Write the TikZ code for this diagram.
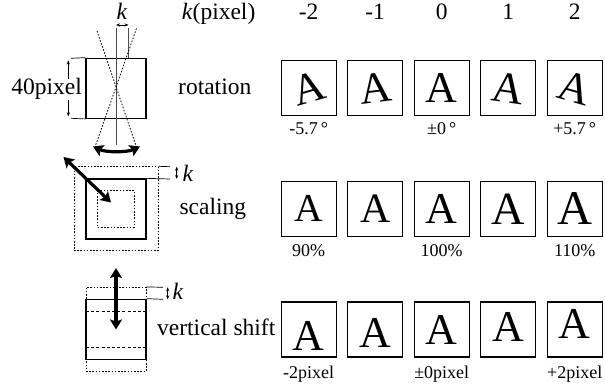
\documentclass[tikz,border=0pt]{standalone}
\usepackage{fontspec}
\setmainfont{Liberation Serif}
\usetikzlibrary{arrows.meta}
\begin{document}
\begin{tikzpicture}[x=1pt,y=-1pt,
  lbl/.style={font=\fontsize{23.5}{28}\selectfont, inner sep=0pt},
  sublbl/.style={font=\fontsize{18}{21}\selectfont, inner sep=0pt},
  cellbox/.style={draw, line width=1.3pt, minimum width=55pt, minimum height=55pt, inner sep=0pt},
  glyph/.style={font=\fontsize{44}{44}\selectfont, inner sep=0pt},
  sqbox/.style={draw, line width=1.3pt, minimum width=60pt, minimum height=60pt, inner sep=0pt},
  dotline/.style={line width=0.8pt, dash pattern=on 1.6pt off 1.6pt},
  dashline/.style={line width=0.8pt, dash pattern=on 3pt off 2.2pt},
  thinline/.style={line width=0.7pt},
  greyline/.style={line width=1pt, draw=black!70},
  smallarrow/.style={line width=0.7pt, {Stealth[length=4pt,width=3.2pt]}-{Stealth[length=4pt,width=3.2pt]}},
  bigarrow/.style={line width=3.2pt, {Stealth[length=10pt,width=12pt,inset=2pt]}-{Stealth[length=10pt,width=12pt,inset=2pt]}}
]
\useasboundingbox (0,0) rectangle (605,387);

% ---------- header ----------
\node[lbl, anchor=base west] (hk) at (181.7,20) {\textit{k}(pixel)};
\foreach \i/\cx/\t in {1/308.7/-2, 2/375.2/-1, 3/441.7/0, 4/508.2/1, 5/574.7/2}{
  \node[lbl, anchor=base] (h\i) at (\cx,20) {\t};
}

% ---------- row labels ----------
\node[lbl, anchor=base west] (lrot) at (178,95) {rotation};
\node[lbl, anchor=base west] (lsca) at (179.3,215) {scaling};
\node[lbl, anchor=base east] (lshi) at (275.5,335) {vertical shift};

% ---------- rotation row ----------
\foreach \i/\cx/\ang in {1/308.7/16, 2/375.2/7, 3/441.7/0, 4/508.2/-8, 5/574.7/-16}{
  \node[cellbox] (r\i) at (\cx,88.3) {};
  \node[glyph, rotate=\ang] (ra\i) at (r\i.center) {A};
}
\node[sublbl, anchor=base] (rs1) at (308.7,135) {-5.7\,°};
\node[sublbl, anchor=base] (rs3) at (441.7,135) {±0\,°};
\node[sublbl, anchor=base] (rs5) at (574.7,135) {+5.7\,°};

% ---------- scaling row ----------
\foreach \i/\cx/\s in {1/308.7/0.9, 2/375.2/0.95, 3/441.7/1.0, 4/508.2/1.05, 5/574.7/1.1}{
  \node[cellbox] (s\i) at (\cx,208.8) {};
  \node[glyph, scale=\s] (sa\i) at (s\i.center) {A};
}
\node[sublbl, anchor=base] (ss1) at (308.7,256.5) {90\%};
\node[sublbl, anchor=base] (ss3) at (441.7,256.5) {100\%};
\node[sublbl, anchor=base] (ss5) at (574.7,256.5) {110\%};

% ---------- vertical shift row ----------
\foreach \i/\cx/\dy in {1/308.7/6, 2/375.2/3, 3/441.7/0, 4/508.2/-3, 5/574.7/-6}{
  \node[cellbox] (v\i) at (\cx,329.5) {};
  \node[glyph] (va\i) at ([yshift=-\dy pt]v\i.center) {A};
}
\node[sublbl, anchor=base] (vs1) at (308.7,378) {-2pixel};
\node[sublbl, anchor=base] (vs3) at (441.7,378) {±0pixel};
\node[sublbl, anchor=base] (vs5) at (574.7,378) {+2pixel};

% ---------- left: rotation sketch ----------
\node[sqbox] (rsq) at (116,88.3) {};
\coordinate (rtop) at (116,28);
\coordinate (rbot) at (116,145);
\coordinate (r2top) at (128,28);
\coordinate (r2bot) at (128,58.3);
\draw[greyline] (rtop) -- (rbot);
\draw[greyline] (r2top) -- (r2bot);
\coordinate (d1a) at (97,31);
\coordinate (d1b) at (136,145.6);
\coordinate (d2a) at (136.5,28.5);
\coordinate (d2b) at (95.5,145.6);
\draw[dotline] (d1a) -- (d1b);
\draw[dotline] (d2a) -- (d2b);
\coordinate (ka) at (116,25);
\coordinate (kb) at (128.5,25);
\draw[smallarrow] (ka) -- (kb);
\node[lbl, anchor=base] (kr) at (122,20) {\textit{k}};
\coordinate (ca) at (93,146.5);
\coordinate (cb) at (140,146.5);
\coordinate (cc1) at (106,152.5);
\coordinate (cc2) at (127,152.5);
\draw[bigarrow] (ca) .. controls (cc1) and (cc2) .. (cb);
% 40pixel dimension
\coordinate (e1) at (71,58.3);
\coordinate (e2) at (71,118.3);
\draw[thinline] (e1) -- (rsq.north west);
\draw[thinline] (e2) -- (rsq.south west);
\coordinate (pa) at (68.3,60.5);
\coordinate (pb) at (68.3,116.3);
\draw[smallarrow] (pa) -- (pb);
\node[lbl, anchor=base east, fill=white] (l40) at (82,95) {40pixel};

% ---------- left: scaling sketch ----------
\node[sqbox] (ssq) at (116,209) {};
\node[draw, dotline, minimum width=84pt, minimum height=84pt, inner sep=0pt] (sout) at (116,208.7) {};
\node[draw, dotline, minimum width=36.6pt, minimum height=36.6pt, inner sep=0pt] (sin) at (116,209) {};
\coordinate (sa) at (111,202.5);
\coordinate (sb) at (63.5,157);
\draw[bigarrow] (sa) -- (sb);
\coordinate (se1) at (170,166.7);
\coordinate (se2) at (170,179);
\draw[thinline] (sout.north east) -- (se1);
\draw[thinline] (ssq.north east) -- (se2);
\coordinate (ska) at (176.7,166.7);
\coordinate (skb) at (176.7,179);
\draw[smallarrow] (ska) -- (skb);
\node[lbl, anchor=base west] (ks) at (182.5,181.5) {\textit{k}};

% ---------- left: vertical shift sketch ----------
\node[sqbox] (vsq) at (116,329.3) {};
\node[draw, dotline, minimum width=60pt, minimum height=84.4pt, inner sep=0pt] (vout) at (116,329.5) {};
\coordinate (vd1a) at (86,311.7);
\coordinate (vd1b) at (146,311.7);
\coordinate (vd2a) at (86,347.7);
\coordinate (vd2b) at (146,347.7);
\draw[dashline] (vd1a) -- (vd1b);
\draw[dashline] (vd2a) -- (vd2b);
\coordinate (vaa) at (116,268);
\coordinate (vab) at (116,329.5);
\draw[bigarrow] (vaa) -- (vab);
\coordinate (ve1) at (163,287.3);
\coordinate (ve2) at (163,299.3);
\draw[thinline] (vout.north east) -- (ve1);
\draw[thinline] (vsq.north east) -- (ve2);
\coordinate (vka) at (167.7,287.3);
\coordinate (vkb) at (167.7,299.3);
\draw[smallarrow] (vka) -- (vkb);
\node[lbl, anchor=base west] (kv) at (172.5,299.5) {\textit{k}};
\end{tikzpicture}
\end{document}
